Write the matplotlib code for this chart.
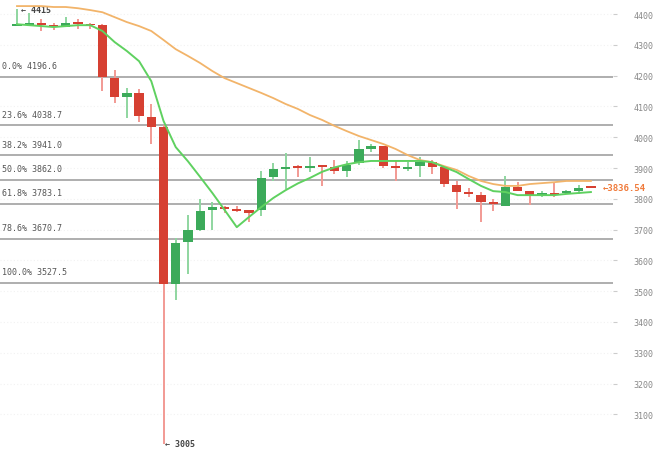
import matplotlib
matplotlib.use("Agg")
import matplotlib.pyplot as plt
import numpy as np

# ---- data ----
opens = [4361, 4366, 4370, 4362, 4359, 4372, 4367, 4365, 4192, 4130, 4143, 4066,
         4033, 3525, 3660, 3700, 3763, 3772, 3768, 3763, 3763, 3870, 3897, 3905,
         3900, 3908, 3903, 3890, 3916, 3962, 3971, 3905, 3898, 3906, 3920, 3903,
         3845, 3820, 3812, 3790, 3777, 3840, 3825, 3812, 3820, 3818, 3826, 3838]
highs = [4415, 4405, 4385, 4370, 4390, 4385, 4370, 4367, 4218, 4160, 4157, 4108,
         4040, 3673, 3747, 3800, 3790, 3776, 3777, 3763, 3890, 3916, 3950, 3910,
         3935, 3910, 3925, 3923, 3990, 3978, 3973, 3925, 3920, 3935, 3925, 3906,
         3858, 3835, 3823, 3800, 3874, 3855, 3825, 3826, 3852, 3830, 3845, 3840]
lows = [4360, 4362, 4345, 4348, 4357, 4350, 4352, 4150, 4111, 4062, 4050, 3978,
        3005, 3470, 3556, 3695, 3700, 3755, 3757, 3725, 3745, 3858, 3832, 3870,
        3887, 3842, 3880, 3870, 3910, 3952, 3900, 3858, 3890, 3872, 3880, 3838,
        3767, 3806, 3725, 3762, 3777, 3825, 3780, 3805, 3806, 3815, 3815, 3835]
closes = [4369, 4369, 4363, 4357, 4370, 4367, 4363, 4195, 4130, 4143, 4069, 4033,
          3523, 3657, 3699, 3760, 3772, 3766, 3760, 3755, 3867, 3897, 3903, 3900,
          3906, 3903, 3890, 3910, 3962, 3971, 3907, 3900, 3903, 3920, 3903, 3848,
          3822, 3815, 3790, 3783, 3840, 3825, 3812, 3818, 3814, 3826, 3836, 3836.54]
ma_fast = [4367, 4364, 4361, 4358, 4361, 4364, 4364, 4345, 4309, 4280, 4247, 4182,
           4053, 3968, 3922, 3871, 3819, 3764, 3708, 3741, 3773, 3803, 3828, 3850,
           3868, 3888, 3902, 3912, 3919, 3923, 3923, 3923, 3923, 3923, 3919, 3903,
           3887, 3864, 3842, 3825, 3822, 3812, 3812, 3812, 3812, 3816, 3819, 3822]
ma_slow = [4426, 4426, 4426, 4423, 4423, 4419, 4413, 4406, 4390, 4374, 4361, 4345,
           4316, 4286, 4264, 4241, 4215, 4192, 4176, 4160, 4144, 4127, 4108, 4092,
           4072, 4056, 4037, 4020, 4004, 3991, 3978, 3962, 3942, 3926, 3919, 3906,
           3894, 3874, 3858, 3848, 3842, 3842, 3848, 3851, 3854, 3858, 3858, 3858]
fib_pct = ["0.0%", "23.6%", "38.2%", "50.0%", "61.8%", "78.6%", "100.0%"]
fib_val = [4196.6, 4038.7, 3941.0, 3862.0, 3783.1, 3670.7, 3527.5]
yticks = [3100, 3200, 3300, 3400, 3500, 3600, 3700, 3800, 3900, 4000, 4100, 4200, 4300, 4400]
last_price = "3836.54"

# ---- figure ----
fig = plt.figure(figsize=(6.6, 4.52), dpi=100)
ax = fig.add_axes([0.0, 0.0, 613 / 660, 1.0])
mono = "DejaVu Sans Mono"

x = np.arange(len(opens))
o = np.array(opens, float); c = np.array(closes, float)
h = np.array(highs, float); l = np.array(lows, float)
up = c >= o
red = "#d64032"; green = "#3caa5a"
red_w = "#f29a94"; green_w = "#8fd6a0"

# grid
for v in yticks:
    ax.axhline(v, color="#f2f2f2", lw=0.8, ls=(0, (1, 2)), zorder=0)

# fib lines
for p, v in zip(fib_pct, fib_val):
    ax.axhline(v, color="#a8a8a8", lw=1.3, zorder=1)
    ax.text(0.003, v + 36, f"{p} {v:.1f}", transform=ax.get_yaxis_transform(),
            fontsize=6, family=mono, color="#555555", va="center", ha="left")

# wicks
ax.vlines(x[up], l[up], h[up], color=green_w, lw=1.4, zorder=2)
ax.vlines(x[~up], l[~up], h[~up], color=red_w, lw=1.4, zorder=2)
# bodies
bottom = np.minimum(o, c)
height = np.maximum(np.abs(c - o), 6)
ax.bar(x[up], height[up], bottom=bottom[up], width=0.76, color=green, zorder=3)
ax.bar(x[~up], height[~up], bottom=bottom[~up], width=0.76, color=red, zorder=3)

# moving averages
ax.plot(x, ma_slow, color="#f2b46a", lw=1.3, zorder=4)
ax.plot(x, ma_fast, color="#5fd160", lw=1.4, zorder=4)

# annotations
imax = int(np.argmax(h)); imin = int(np.argmin(l))
ax.text(imax + 0.35, h[imax], f"\u2190 {h[imax]:.0f}", fontsize=6, family=mono,
        color="#444444", va="center", ha="left", fontweight="bold")
ax.text(imin + 0.15, l[imin], f"\u2190 {l[imin]:.0f}", fontsize=6, family=mono,
        color="#444444", va="center", ha="left", fontweight="bold")
ax.text(603 / 613, closes[-1], "\u2190" + last_price, transform=ax.get_yaxis_transform(),
        fontsize=6.5, family=mono, color="#f07a3a", va="center", ha="left",
        clip_on=False, zorder=6, fontweight="bold")

# axes
ax.set_xlim(-1.39, 48.81)
ax.set_ylim(2981, 4449)
ax.yaxis.tick_right()
ax.set_yticks(yticks)
ax.set_yticklabels([str(v) for v in yticks], family=mono, fontsize=6, color="#888888")
ax.tick_params(axis="y", length=3, width=0.8, color="#cccccc", pad=12)
ax.set_xticks([])
for s in ax.spines.values():
    s.set_visible(False)

fig.savefig("out.png", dpi=100)
